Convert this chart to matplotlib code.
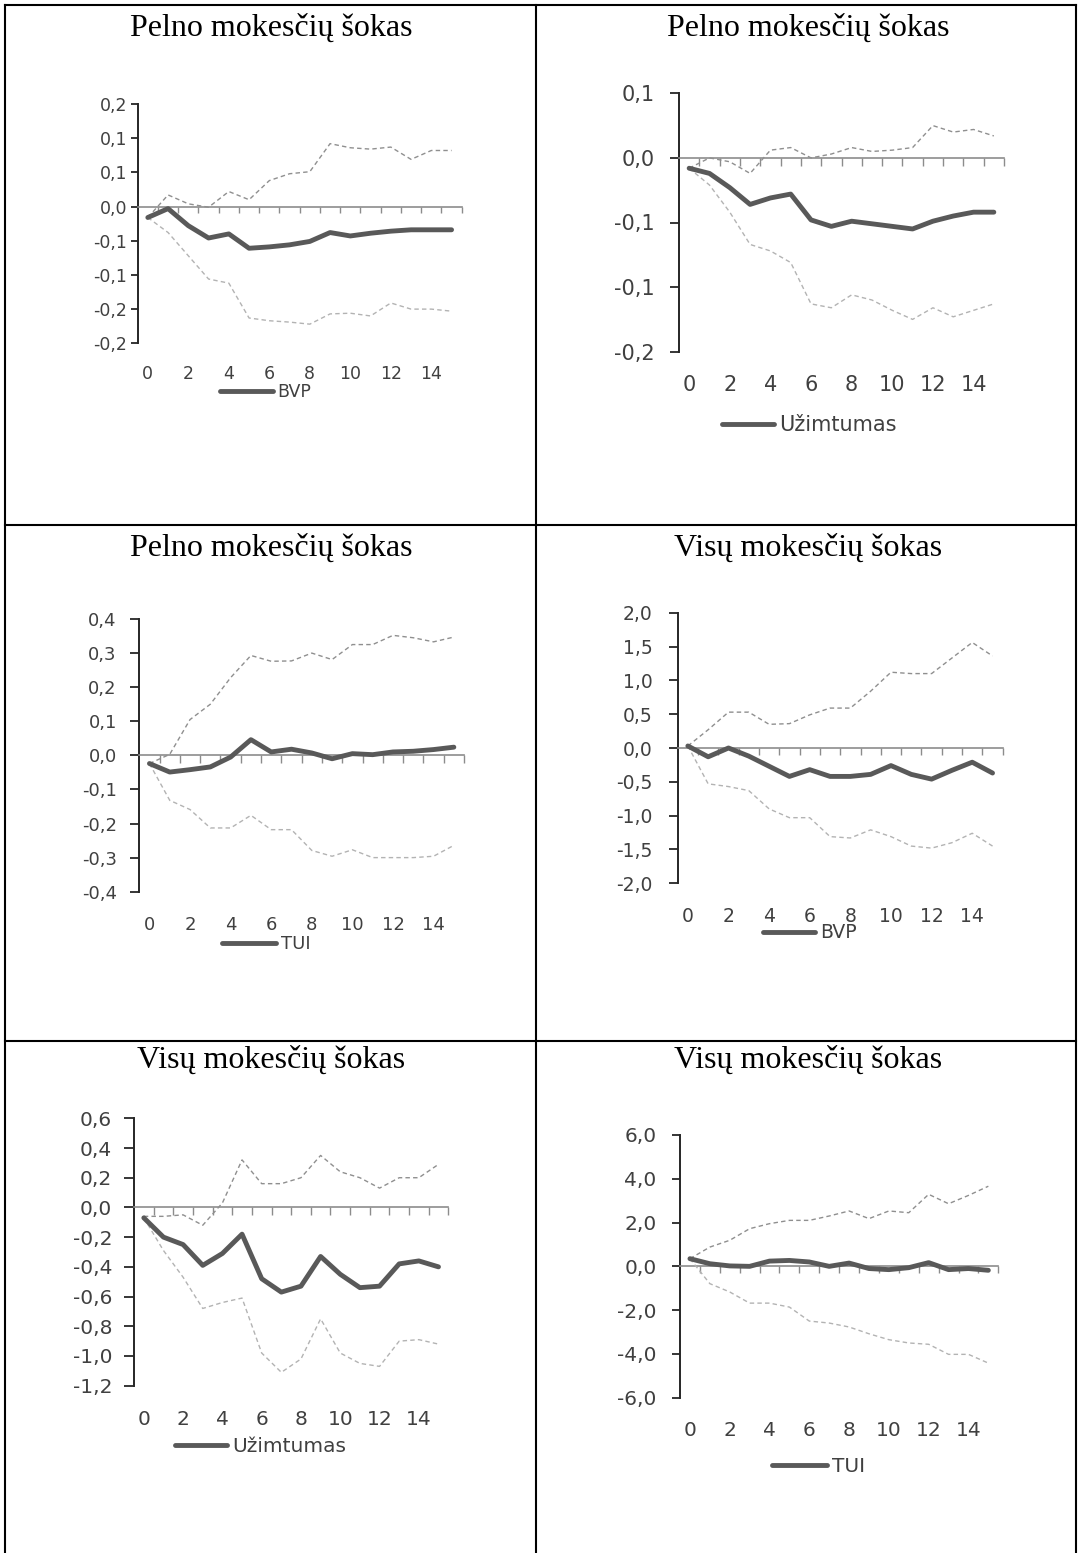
import numpy as np
import matplotlib
matplotlib.use("Agg")
import matplotlib.pyplot as plt
from matplotlib.lines import Line2D

W, H, DPI = 1080, 1553, 100

# ---------------------------------------------------------------- data
periods = list(range(16))
xtick_values = [0, 2, 4, 6, 8, 10, 12, 14]

titles = ["Pelno mokesčių šokas", "Pelno mokesčių šokas",
          "Pelno mokesčių šokas", "Visų mokesčių šokas",
          "Visų mokesčių šokas", "Visų mokesčių šokas"]
series_names = ["BVP", "Užimtumas", "TUI", "BVP", "Užimtumas", "TUI"]

# profit-tax shock -> GDP
p1_resp = [-0.016, -0.003, -0.028, -0.046, -0.040, -0.061, -0.059, -0.056,
           -0.051, -0.038, -0.043, -0.039, -0.036, -0.034, -0.034, -0.034]
p1_upper = [-0.016, 0.017, 0.004, -0.001, 0.022, 0.010, 0.038, 0.048,
            0.051, 0.092, 0.086, 0.084, 0.087, 0.069, 0.082, 0.082]
p1_lower = [-0.016, -0.038, -0.072, -0.106, -0.112, -0.163, -0.167, -0.169,
            -0.172, -0.157, -0.156, -0.160, -0.141, -0.150, -0.150, -0.153]
p1_yticks = [-0.20, -0.15, -0.10, -0.05, 0.00, 0.05, 0.10, 0.15]
p1_ylabels = ["-0,2", "-0,2", "-0,1", "-0,1", "0,0", "0,1", "0,1", "0,2"]

# profit-tax shock -> employment
p2_resp = [-0.008, -0.012, -0.023, -0.036, -0.031, -0.028, -0.048, -0.053,
           -0.049, -0.051, -0.053, -0.055, -0.049, -0.045, -0.042, -0.042]
p2_upper = [-0.008, 0.000, -0.003, -0.012, 0.006, 0.008, 0.000, 0.003,
            0.008, 0.005, 0.006, 0.008, 0.025, 0.020, 0.022, 0.017]
p2_lower = [-0.008, -0.021, -0.042, -0.067, -0.072, -0.081, -0.113, -0.116,
            -0.106, -0.110, -0.118, -0.125, -0.116, -0.123, -0.118, -0.113]
p2_yticks = [-0.15, -0.10, -0.05, 0.00, 0.05]
p2_ylabels = ["-0,2", "-0,1", "-0,1", "0,0", "0,1"]

# profit-tax shock -> FDI
p3_resp = [-0.024, -0.049, -0.042, -0.034, -0.005, 0.046, 0.010, 0.018,
           0.007, -0.010, 0.005, 0.002, 0.010, 0.012, 0.017, 0.024]
p3_upper = [-0.024, 0.003, 0.105, 0.150, 0.228, 0.293, 0.276, 0.277,
            0.300, 0.281, 0.325, 0.325, 0.352, 0.345, 0.333, 0.347]
p3_lower = [-0.024, -0.132, -0.159, -0.213, -0.213, -0.176, -0.218, -0.218,
            -0.279, -0.296, -0.277, -0.300, -0.300, -0.300, -0.296, -0.264]
p3_yticks = [-0.4, -0.3, -0.2, -0.1, 0.0, 0.1, 0.2, 0.3, 0.4]
p3_ylabels = ["-0,4", "-0,3", "-0,2", "-0,1", "0,0", "0,1", "0,2", "0,3", "0,4"]

# total-tax shock -> GDP
p4_resp = [0.03, -0.13, 0.00, -0.12, -0.27, -0.42, -0.32, -0.42,
           -0.42, -0.39, -0.26, -0.39, -0.46, -0.33, -0.21, -0.37]
p4_upper = [0.03, 0.27, 0.53, 0.53, 0.35, 0.36, 0.49, 0.59,
            0.59, 0.84, 1.12, 1.10, 1.10, 1.33, 1.56, 1.36]
p4_lower = [0.03, -0.53, -0.57, -0.63, -0.90, -1.03, -1.03, -1.31,
            -1.33, -1.21, -1.31, -1.45, -1.48, -1.40, -1.26, -1.45]
p4_yticks = [-2.0, -1.5, -1.0, -0.5, 0.0, 0.5, 1.0, 1.5, 2.0]
p4_ylabels = ["-2,0", "-1,5", "-1,0", "-0,5", "0,0", "0,5", "1,0", "1,5", "2,0"]

# total-tax shock -> employment
p5_resp = [-0.07, -0.20, -0.25, -0.39, -0.31, -0.18, -0.48, -0.57,
           -0.53, -0.33, -0.45, -0.54, -0.53, -0.38, -0.36, -0.40]
p5_upper = [-0.06, -0.06, -0.05, -0.12, 0.03, 0.32, 0.16, 0.16,
            0.20, 0.35, 0.24, 0.20, 0.13, 0.20, 0.20, 0.29]
p5_lower = [-0.07, -0.29, -0.47, -0.68, -0.64, -0.61, -0.98, -1.11,
            -1.02, -0.75, -0.98, -1.05, -1.07, -0.90, -0.89, -0.92]
p5_yticks = [-1.2, -1.0, -0.8, -0.6, -0.4, -0.2, 0.0, 0.2, 0.4, 0.6]
p5_ylabels = ["-1,2", "-1,0", "-0,8", "-0,6", "-0,4", "-0,2",
              "0,0", "0,2", "0,4", "0,6"]

# total-tax shock -> FDI
p6_resp = [0.35, 0.12, 0.02, 0.00, 0.24, 0.27, 0.20, 0.00,
           0.15, -0.10, -0.15, -0.06, 0.17, -0.15, -0.10, -0.18]
p6_upper = [0.35, 0.88, 1.19, 1.72, 1.95, 2.10, 2.10, 2.30,
            2.53, 2.18, 2.53, 2.45, 3.29, 2.86, 3.24, 3.66]
p6_lower = [0.35, -0.79, -1.17, -1.68, -1.68, -1.86, -2.50, -2.59,
            -2.77, -3.08, -3.35, -3.50, -3.56, -4.02, -4.02, -4.42]
p6_yticks = [-6.0, -4.0, -2.0, 0.0, 2.0, 4.0, 6.0]
p6_ylabels = ["-6,0", "-4,0", "-2,0", "0,0", "2,0", "4,0", "6,0"]

responses = [p1_resp, p2_resp, p3_resp, p4_resp, p5_resp, p6_resp]
uppers = [p1_upper, p2_upper, p3_upper, p4_upper, p5_upper, p6_upper]
lowers = [p1_lower, p2_lower, p3_lower, p4_lower, p5_lower, p6_lower]
yticks_all = [p1_yticks, p2_yticks, p3_yticks, p4_yticks, p5_yticks, p6_yticks]
ylabels_all = [p1_ylabels, p2_ylabels, p3_ylabels, p4_ylabels, p5_ylabels, p6_ylabels]

# ---------------------------------------------------------------- layout (pixels)
# plot box (left, top, right, bottom), font size, y-label gap, tick length,
# x-label centre y, legend line start (x, y), legend line length
layout = [
    dict(box=(137.7, 104.0, 461.7, 343.3), fs=12.5, ygap=3, tick=7.5,
         xlab_y=375.0, leg=(220, 392), leglen=53),
    dict(box=(679.0, 93.3, 1004.0, 351.7), fs=15.0, ygap=15, tick=9.5,
         xlab_y=386.7, leg=(722, 425), leglen=52),
    dict(box=(139.3, 619.0, 464.0, 891.7), fs=13.0, ygap=13, tick=9.5,
         xlab_y=926.0, leg=(222, 944), leglen=54),
    dict(box=(677.7, 612.7, 1002.7, 883.3), fs=13.5, ygap=16, tick=9.0,
         xlab_y=918.0, leg=(763, 933), leglen=52),
    dict(box=(134.0, 1118.3, 448.3, 1385.7), fs=14.5, ygap=12, tick=10.0,
         xlab_y=1422.0, leg=(175, 1447), leglen=52),
    dict(box=(680.0, 1135.0, 998.3, 1397.7), fs=14.5, ygap=15, tick=8.5,
         xlab_y=1433.0, leg=(772, 1467), leglen=55),
]
title_pos = [(271, 36), (808, 36), (271, 556), (808, 556), (271, 1068), (808, 1068)]

PX = 72.0 / DPI  # points per pixel

plt.rcParams["font.family"] = ["DejaVu Sans"]

fig = plt.figure(figsize=(W / DPI, H / DPI), dpi=DPI)
fig.patch.set_facecolor("white")

LABEL_C = "#404040"
VAXIS_C = "#262626"
HAXIS_C = "#8c8c8c"
MAIN_C = "#595959"
UP_C = "#8f8f8f"
LO_C = "#b3b3b3"
DASH = (0, (3.2, 2.3))

for i in range(6):
    L = layout[i]
    l, t, r, b = L["box"]
    ax = fig.add_axes([l / W, 1 - b / H, (r - l) / W, (b - t) / H])
    ax.set_facecolor("none")

    ax.plot(periods, uppers[i], color=UP_C, lw=1.0, ls=DASH, zorder=3)
    ax.plot(periods, lowers[i], color=LO_C, lw=1.0, ls=DASH, zorder=3)
    main_line, = ax.plot(periods, responses[i], color=MAIN_C, lw=3.5,
                         solid_joinstyle="round", solid_capstyle="round",
                         zorder=4, label=series_names[i])

    yt = yticks_all[i]
    ax.set_xlim(-0.5, 15.5)
    ax.set_ylim(yt[0], yt[-1])

    ax.spines["top"].set_visible(False)
    ax.spines["right"].set_visible(False)
    ax.spines["left"].set_color(VAXIS_C)
    ax.spines["left"].set_linewidth(1.4)
    ax.spines["bottom"].set_position(("data", 0))
    ax.spines["bottom"].set_color(HAXIS_C)
    ax.spines["bottom"].set_linewidth(1.2)

    # category boundaries carry the tick marks on the zero line
    ax.set_xticks(np.arange(0.5, 16, 1.0))
    ax.tick_params(axis="x", which="both", direction="out", length=L["tick"] * PX * 0.8,
                   width=1.0, color=HAXIS_C, labelbottom=False)

    ax.set_yticks(yt)
    ax.set_yticklabels(ylabels_all[i])
    ax.tick_params(axis="y", direction="out", length=L["tick"] * PX, width=1.3,
                   color=VAXIS_C, labelsize=L["fs"], labelcolor=LABEL_C,
                   pad=L["ygap"] * PX)

    # period labels sit below the plot box
    em = L["fs"] / PX
    sec = ax.secondary_xaxis("bottom")
    sec.set_xticks(xtick_values)
    sec.set_xticklabels([str(v) for v in xtick_values])
    sec.spines["bottom"].set_visible(False)
    sec.tick_params(length=0, labelsize=L["fs"], labelcolor=LABEL_C,
                    pad=(L["xlab_y"] - b - 0.58 * em) * PX)

    lx, ly = L["leg"]
    ax.legend(handles=[main_line], loc="center left",
              bbox_to_anchor=(lx / W, 1 - ly / H), bbox_transform=fig.transFigure,
              frameon=False, borderpad=0, borderaxespad=0,
              handlelength=L["leglen"] / em, handletextpad=0.25,
              fontsize=L["fs"], labelcolor=LABEL_C)

    cx, cy = title_pos[i]
    fig.text(cx / W, 1 - cy / H, titles[i], ha="center", va="baseline",
             fontsize=23, family=["Liberation Serif", "DejaVu Serif"], color="black")

# table rules
def rule(x0, y0, x1, y1):
    fig.add_artist(Line2D([x0 / W, x1 / W], [1 - y0 / H, 1 - y1 / H],
                          transform=fig.transFigure, color="black", lw=1.5,
                          solid_capstyle="projecting"))

rule(5, 5, 1076, 5)
rule(5, 525, 1076, 525)
rule(5, 1040.5, 1076, 1040.5)
rule(5, 5, 5, H)
rule(535.5, 5, 535.5, H)
rule(1076, 5, 1076, H)

fig.savefig("out.png", dpi=DPI, facecolor="white")
